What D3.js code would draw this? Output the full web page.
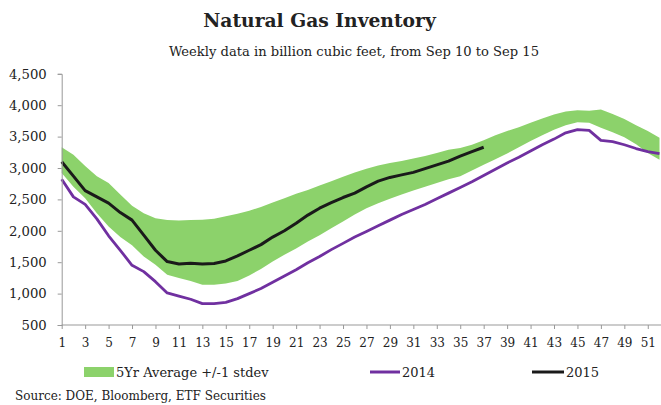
<!DOCTYPE html>
<html><head><meta charset="utf-8">
<script src="https://cdn.jsdelivr.net/npm/d3@7"></script>
<style>body{margin:0;background:#fff}svg{display:block}text{font-family:"DejaVu Serif",serif;fill:#222}</style>
</head><body><svg id="c" width="661" height="405"></svg>
<script>
const weeks = d3.range(1, 53);
const bandUpper = [3330,3210,3030,2870,2760,2580,2400,2280,2200,2170,2165,2170,2175,2190,2230,2270,2320,2380,2450,2520,2590,2650,2720,2790,2860,2930,2990,3040,3080,3110,3150,3190,3240,3290,3320,3370,3440,3520,3590,3650,3720,3790,3850,3900,3920,3910,3930,3860,3780,3680,3590,3480];
const bandLower = [2920,2700,2520,2280,2070,1900,1770,1590,1460,1300,1250,1200,1140,1140,1160,1200,1290,1390,1510,1620,1720,1830,1930,2040,2150,2260,2360,2440,2510,2580,2640,2700,2760,2820,2870,2960,3050,3140,3230,3330,3430,3520,3610,3680,3730,3720,3640,3570,3490,3380,3240,3130];
const s2014 = [2820,2540,2420,2190,1920,1690,1450,1350,1190,1010,960,910,840,840,860,920,1000,1080,1180,1280,1380,1490,1590,1700,1800,1900,1990,2080,2170,2260,2340,2420,2510,2600,2690,2780,2880,2980,3080,3170,3270,3370,3460,3560,3610,3600,3440,3420,3370,3310,3260,3230];
const s2015 = [3100,2870,2640,2540,2440,2290,2170,1930,1690,1510,1470,1485,1470,1480,1520,1600,1690,1780,1900,2000,2120,2250,2360,2450,2530,2600,2700,2790,2850,2890,2930,2990,3050,3110,3190,3260,3330];
const yTicks = [500,1000,1500,2000,2500,3000,3500,4000,4500];
const xTickLabels = d3.range(1, 52, 2);
const title = "Natural Gas Inventory";
const subtitle = "Weekly data in billion cubic feet, from Sep 10 to Sep 15";
const legendLabels = ["5Yr Average +/-1 stdev", "2014", "2015"];
const source = "Source: DOE, Bloomberg, ETF Securities";

const svg = d3.select("#c");
const x = d3.scaleLinear().domain([1, 52]).range([61.7, 659.5]);
const y = d3.scaleLinear().domain([500, 4500]).range([325, 73.8]);

svg.append("text").attr("x", 319.5).attr("y", 27).attr("text-anchor", "middle")
  .style("font-size", "18.7px").style("font-weight", "bold").text(title);
svg.append("text").attr("x", 354).attr("y", 56).attr("text-anchor", "middle")
  .style("font-size", "13.1px").text(subtitle);

const bandData = weeks.map((w, i) => ({w, lo: bandLower[i], hi: bandUpper[i]}));
svg.append("path").datum(bandData).attr("fill", "#8cd26b")
  .attr("d", d3.area().x(d => x(d.w)).y0(d => y(d.lo)).y1(d => y(d.hi)));

const line = d3.line().x(d => x(d.w)).y(d => y(d.v));
svg.append("path").datum(s2014.map((v, i) => ({w: weeks[i], v})))
  .attr("fill", "none").attr("stroke", "#7030a0").attr("stroke-width", 2.8).attr("stroke-linejoin", "round").attr("d", line);
svg.append("path").datum(s2015.map((v, i) => ({w: weeks[i], v})))
  .attr("fill", "none").attr("stroke", "#1a1a1a").attr("stroke-width", 3).attr("stroke-linejoin", "round").attr("d", line);

const yAxis = svg.append("g").attr("transform", "translate(61.7,0)")
  .call(d3.axisLeft(y).tickValues(yTicks).tickSize(4).tickPadding(11).tickFormat(d3.format(",")));
yAxis.selectAll("text").style("font-size", "13.2px").style("font-family", '"DejaVu Serif",serif').attr("fill", "#222");
yAxis.selectAll("line,path").attr("stroke", "#999");

const xAxis = svg.append("g").attr("transform", "translate(0,325)")
  .call(d3.axisBottom(x).tickValues(xTickLabels).tickSize(4).tickSizeOuter(0).tickPadding(9).tickFormat(d => d));
xAxis.select(".domain").attr("d", "M61.7,0H661");
xAxis.selectAll("text").style("font-size", "12px").style("font-family", '"DejaVu Serif",serif').attr("fill", "#222");
xAxis.selectAll("line,path").attr("stroke", "#999");

const lg = svg.append("g");
lg.append("rect").attr("x", 84).attr("y", 367).attr("width", 30).attr("height", 10).attr("fill", "#8cd26b");
lg.append("text").attr("x", 116).attr("y", 377).style("font-size", "13px").text(legendLabels[0]);
lg.append("line").attr("x1", 370).attr("x2", 400).attr("y1", 372).attr("y2", 372).attr("stroke", "#7030a0").attr("stroke-width", 3);
lg.append("text").attr("x", 402).attr("y", 377).style("font-size", "13px").text(legendLabels[1]);
lg.append("line").attr("x1", 532).attr("x2", 564).attr("y1", 372).attr("y2", 372).attr("stroke", "#1a1a1a").attr("stroke-width", 3);
lg.append("text").attr("x", 566).attr("y", 377).style("font-size", "13px").text(legendLabels[2]);

svg.append("text").attr("x", 15).attr("y", 400).style("font-size", "12px").text(source);
</script></body></html>
